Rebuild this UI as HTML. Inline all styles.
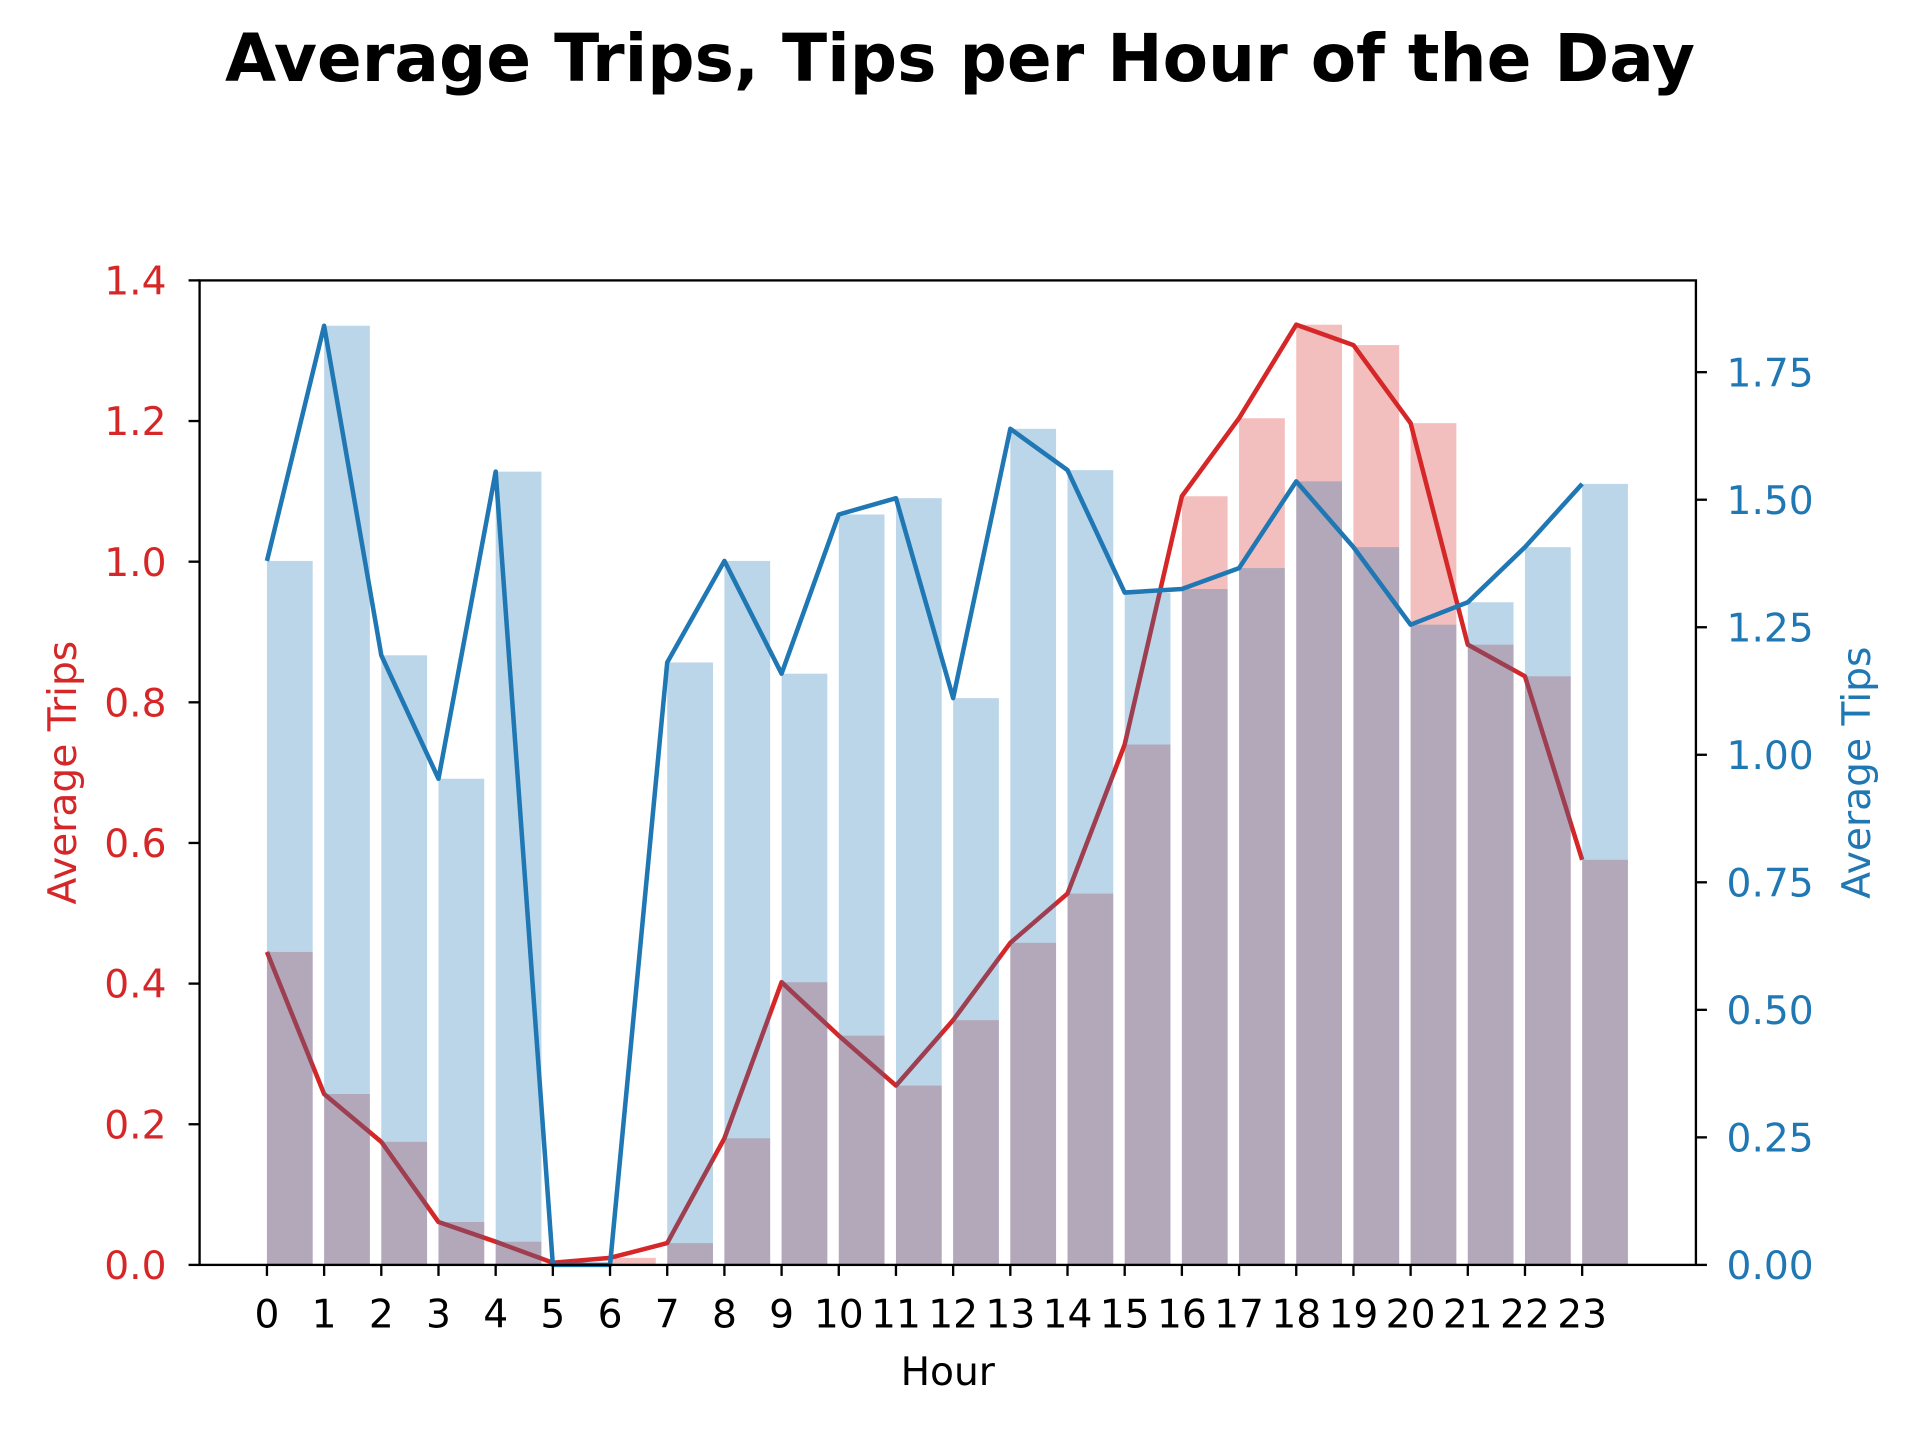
<!DOCTYPE html>
<html><head><meta charset="utf-8"><style>html,body{margin:0;padding:0;background:#fff}svg{display:block}text{font-family:"DejaVu Sans","Liberation Sans",sans-serif}</style></head>
<body>
<svg id="chart" width="1920" height="1440" viewBox="0 0 1568 1176" xmlns="http://www.w3.org/2000/svg">
<text x="784" y="66" text-anchor="middle" font-size="54" font-weight="bold">Average Trips, Tips per Hour of the Day</text>
<g id="g"></g>
</svg>
<script>
const hours=[0,1,2,3,4,5,6,7,8,9,10,11,12,13,14,15,16,17,18,19,20,21,22,23];
const trips=[0.445,0.243,0.175,0.061,0.033,0.003,0.01,0.031,0.18,0.402,0.326,0.255,0.348,0.458,0.528,0.74,1.093,1.204,1.337,1.308,1.197,0.882,0.837,0.576];
const tips=[1.38,1.841,1.195,0.953,1.555,0,0,1.181,1.38,1.159,1.471,1.503,1.111,1.639,1.558,1.318,1.325,1.366,1.536,1.407,1.255,1.299,1.407,1.531];
const leftTicks=[0,0.2,0.4,0.6,0.8,1.0,1.2,1.4];
const rightTicks=[0,0.25,0.5,0.75,1.0,1.25,1.5,1.75];
const L=163,R=1385,T=229,B=1033;
const x=h=>218+h*46.7;
const yL=v=>B-v*574.3;
const yR=v=>B-v*416.6;
const g=document.getElementById('g');
const NS='http://www.w3.org/2000/svg';
function mk(tag,attrs,parent){const e=document.createElementNS(NS,tag);for(const k in attrs)e.setAttribute(k,attrs[k]);(parent||g).appendChild(e);return e;}
hours.forEach((h,i)=>{const r=mk('rect',{x:x(h),y:yL(trips[i]),width:46.7*0.8,height:B-yL(trips[i]),fill:'#d62728','fill-opacity':0.3});

});
let p=mk('polyline',{points:hours.map((h,i)=>x(h)+','+yL(trips[i])).join(' '),fill:'none',stroke:'#d62728','stroke-width':3.7,'stroke-linejoin':'round'});


hours.forEach((h,i)=>{const r=mk('rect',{x:x(h),y:yR(tips[i]),width:46.7*0.8,height:B-yR(tips[i]),fill:'#1f77b4','fill-opacity':0.3});

});
p=mk('polyline',{points:hours.map((h,i)=>x(h)+','+yR(tips[i])).join(' '),fill:'none',stroke:'#1f77b4','stroke-width':3.7,'stroke-linejoin':'round'});


const fr=mk('rect',{x:L,y:T,width:R-L,height:B-T,fill:'none',stroke:'#000','stroke-width':1.9});


leftTicks.forEach(v=>{mk('line',{x1:L-9,x2:L,y1:yL(v),y2:yL(v),stroke:'#000','stroke-width':1.9});
const t=mk('text',{x:L-27,y:yL(v)+11.5,'text-anchor':'end','font-size':32,fill:'#d62728'});t.textContent=v.toFixed(1);

});
rightTicks.forEach(v=>{mk('line',{x1:R,x2:R+9,y1:yR(v),y2:yR(v),stroke:'#000','stroke-width':1.9});
const t=mk('text',{x:R+25,y:yR(v)+11.5,'text-anchor':'start','font-size':32,fill:'#1f77b4'});t.textContent=v.toFixed(2);

});
hours.forEach(h=>{mk('line',{x1:x(h),x2:x(h),y1:B,y2:B+9,stroke:'#000','stroke-width':1.9});
const t=mk('text',{x:x(h),y:B+51,'text-anchor':'middle','font-size':32,fill:'#000'});t.textContent=h;

});
let t=mk('text',{x:774,y:1131,'text-anchor':'middle','font-size':32});t.textContent='Hour';


t=mk('text',{x:0,y:0,'text-anchor':'middle','font-size':32,fill:'#d62728',transform:'translate(62,631) rotate(-90)'});t.textContent='Average Trips';


t=mk('text',{x:0,y:0,'text-anchor':'middle','font-size':32,fill:'#1f77b4',transform:'translate(1527,631) rotate(-90)'});t.textContent='Average Tips';


</script>
</body></html>
